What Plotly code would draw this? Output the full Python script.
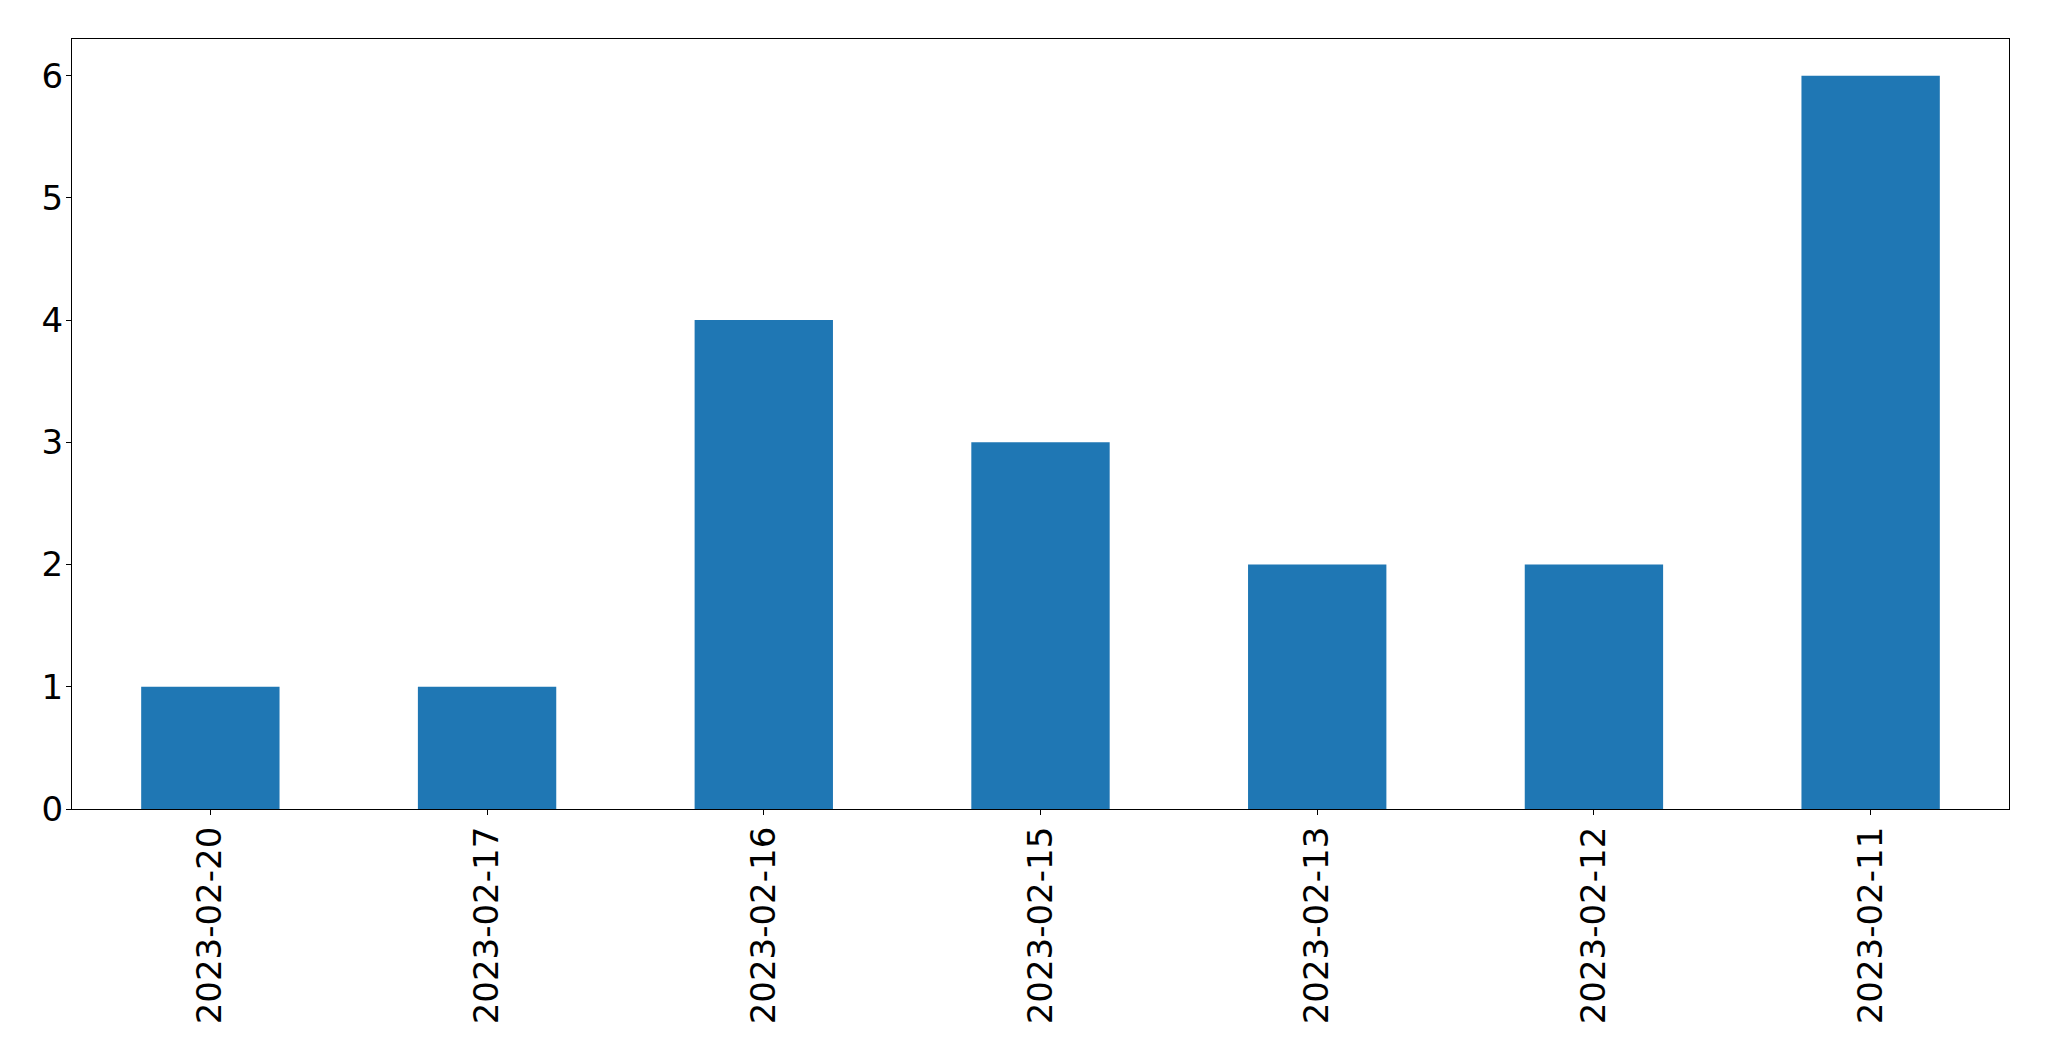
import plotly.graph_objects as go

dates = ["2023-02-20", "2023-02-17", "2023-02-16", "2023-02-15",
         "2023-02-13", "2023-02-12", "2023-02-11"]
counts = [1, 1, 4, 3, 2, 2, 6]

BAR_COLOR = "#1f77b4"
FONT = "DejaVu Sans"

fig = go.Figure(
    go.Bar(x=dates, y=counts, width=0.5, marker_color=BAR_COLOR, marker_line_width=0)
)

axis_common = dict(
    showline=True,
    linecolor="black",
    linewidth=1.3,
    mirror=True,
    ticks="outside",
    ticklen=5,
    tickwidth=1.3,
    tickcolor="black",
    showgrid=False,
    zeroline=False,
    tickfont=dict(family=FONT, size=34, color="black"),
)

fig.update_layout(
    width=2049,
    height=1061,
    margin=dict(l=72, r=40, t=39, b=252),
    paper_bgcolor="white",
    plot_bgcolor="white",
    showlegend=False,
    xaxis=dict(type="category", range=[-0.5, 6.5], tickangle=-90,
               ticklabelstandoff=-2, **axis_common),
    yaxis=dict(range=[0, 6.3], dtick=1, ticklabelstandoff=-4, **axis_common),
)

# drop the default body margin so the figure sits at the page corner
fig.write_html(
    "out.html",
    config={"displayModeBar": False},
    post_script="document.body.style.margin='0';",
)
